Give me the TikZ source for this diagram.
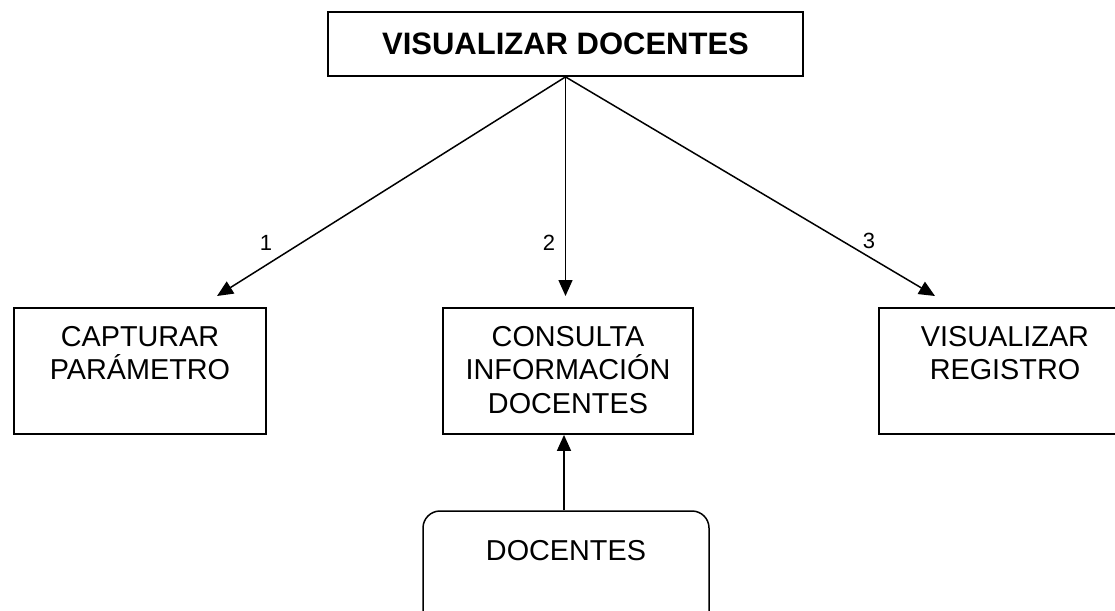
\documentclass[tikz,border=0pt]{standalone}
\usepackage{fontspec}
\setmainfont{Liberation Sans}
\usetikzlibrary{arrows.meta}
\newcommand{\mybt}[1]{\begin{minipage}[t]{240pt}\centering\lineskiplimit=-100pt #1\end{minipage}}
\begin{document}
\begin{tikzpicture}[x=1pt,y=-1pt,
  boxst/.style={draw, line width=1.8pt, inner sep=0pt, rectangle, minimum height=126pt},
  txt/.style={inner sep=0pt, anchor=base, font=\fontsize{28.8}{33.5}\selectfont},
  lbl/.style={inner sep=0pt, anchor=base, font=\fontsize{22}{25}\selectfont},
  conn/.style={line width=1.5pt, -{Triangle[length=16pt,width=14pt]}}
]
\useasboundingbox (0,0) rectangle (1115,610);
\clip (0,0) rectangle (1115,610);
\fill[white] (0,0) rectangle (1115,610);
% top box
\node[draw, line width=1.8pt, inner sep=0pt, minimum width=475pt, minimum height=64pt] (top) at (565.5,44) {};
\node[inner sep=0pt, anchor=base, font=\fontsize{31}{36}\selectfont\bfseries] (toptxt) at (565.5,55) {VISUALIZAR DOCENTES};
% boxes
\node[boxst, minimum width=252pt] (cap) at (140,371) {};
\node[txt] (captxt) at (140,346) {\mybt{CAPTURAR\\PARÁMETRO}};
\node[boxst, minimum width=250pt] (cons) at (568,371) {};
\node[txt] (constxt) at (568,346) {\mybt{CONSULTA\\INFORMACIÓN\\DOCENTES}};
\node[boxst, minimum width=252pt] (vis) at (1005,371) {};
\node[txt] (vistxt) at (1005,346) {\mybt{VISUALIZAR\\REGISTRO}};
% data store
\node[draw, line width=1.5pt, rounded corners=17pt, inner sep=0pt, minimum width=286pt, minimum height=140pt] (doc) at (566,581) {};
\node[txt] (doctxt) at (566,560) {DOCENTES};
% connector ends
\coordinate (e1) at (217,296);
\coordinate (e2) at (565.5,296);
\coordinate (e3) at (935,296);
\draw[conn] (top.south) -- (e1);
\draw[conn] (top.south) -- (e2);
\draw[conn] (top.south) -- (e3);
\draw[conn] ([xshift=-2pt]doc.north) -- ([xshift=-2pt]doc.north |- cons.south);
% labels
\node[lbl] (l1) at (266,250) {1};
\node[lbl] (l2) at (549,250) {2};
\node[lbl] (l3) at (869,248) {3};
\end{tikzpicture}
\end{document}
